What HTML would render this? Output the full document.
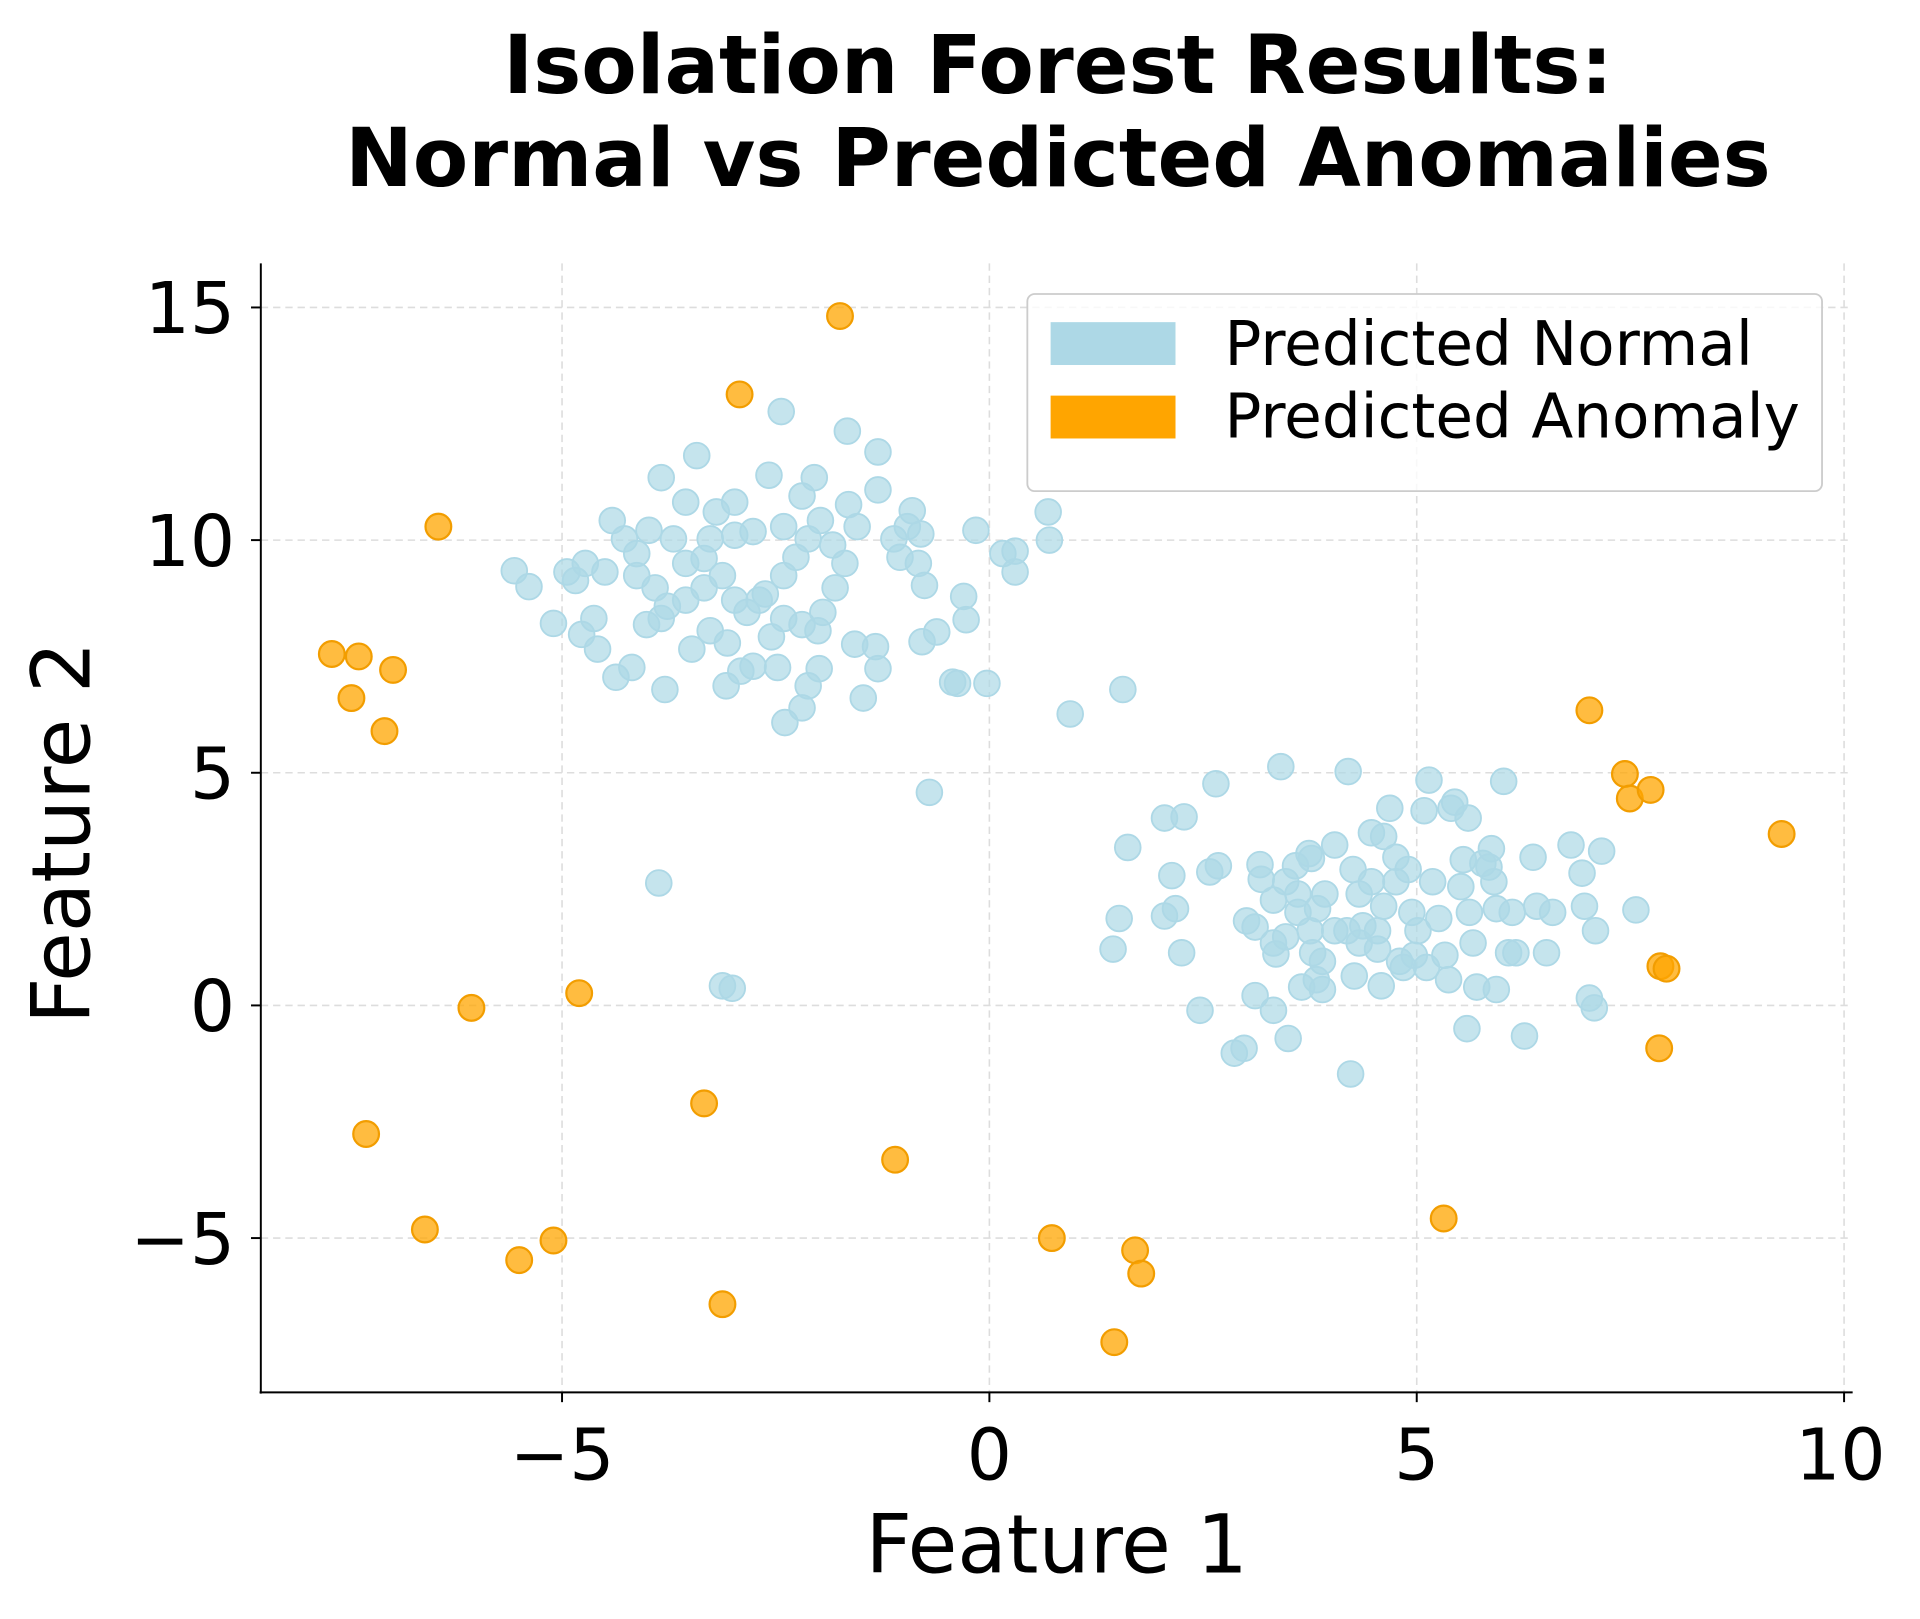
<!DOCTYPE html>
<html><head><meta charset="utf-8"><style>
html,body{margin:0;padding:0;background:#fff}
svg{display:block}
text{font-family:"DejaVu Sans","Liberation Sans",sans-serif;fill:#000}
</style></head><body>
<svg width="1920" height="1619" viewBox="0 0 1568 1322" xmlns="http://www.w3.org/2000/svg">
<rect width="1568" height="1322" fill="#fff"/>
<text x="864" y="76" font-size="66" font-weight="bold" text-anchor="middle">Isolation Forest Results:</text>
<text x="864" y="152" font-size="66" font-weight="bold" text-anchor="middle">Normal vs Predicted Anomalies</text>
<g stroke="#ddd" stroke-width="1.3" stroke-dasharray="6,4">
<line x1="459" y1="215" x2="459" y2="1137"/><line x1="808" y1="215" x2="808" y2="1137"/>
<line x1="1157" y1="215" x2="1157" y2="1137"/><line x1="1506" y1="215" x2="1506" y2="1137"/>
<line x1="213" y1="251" x2="1513" y2="251"/><line x1="213" y1="441" x2="1513" y2="441"/>
<line x1="213" y1="631" x2="1513" y2="631"/><line x1="213" y1="821" x2="1513" y2="821"/>
<line x1="213" y1="1011" x2="1513" y2="1011"/>
</g>
<g id="n" fill="#add8e6" fill-opacity="0.7" stroke="#add8e6" stroke-width="1.5"></g>
<g id="a" fill="#ffa500" fill-opacity="0.75" stroke="#f29d00" stroke-width="1.8"></g>
<g stroke="#000" stroke-width="1.6">
<line x1="213" y1="215" x2="213" y2="1138"/><line x1="212" y1="1137" x2="1513" y2="1137"/>
<line x1="459" y1="1137" x2="459" y2="1145"/><line x1="808" y1="1137" x2="808" y2="1145"/>
<line x1="1157" y1="1137" x2="1157" y2="1145"/><line x1="1506" y1="1137" x2="1506" y2="1145"/>
<line x1="205" y1="251" x2="213" y2="251"/><line x1="205" y1="441" x2="213" y2="441"/>
<line x1="205" y1="631" x2="213" y2="631"/><line x1="205" y1="821" x2="213" y2="821"/>
<line x1="205" y1="1011" x2="213" y2="1011"/>
</g>
<g font-size="58" text-anchor="middle">
<text x="459" y="1208">−5</text><text x="808" y="1208">0</text><text x="1157" y="1208">5</text><text x="1503" y="1208">10</text>
</g>
<g font-size="58" text-anchor="end">
<text x="192" y="272">15</text><text x="192" y="462">10</text><text x="192" y="652">5</text><text x="192" y="842">0</text><text x="192" y="1032">−5</text>
</g>
<text x="863" y="1284" font-size="66" text-anchor="middle">Feature 1</text>
<text transform="translate(73,680) rotate(-90)" font-size="66" text-anchor="middle">Feature 2</text>
<rect x="839" y="240" width="649" height="161" rx="6" fill="#fff" fill-opacity="0.8" stroke="#ccc" stroke-width="1.5"/>
<rect x="858" y="263" width="102" height="35" fill="#add8e6"/>
<rect x="858" y="323" width="102" height="35" fill="#ffa500"/>
<text x="1000" y="298" font-size="50">Predicted Normal</text>
<text x="1000" y="357" font-size="50">Predicted Anomaly</text>
</svg>
<script>
var N=[[420,466],[432,479],[463,467],[470,474],[452,509],[475,518],[485,505],[494,467],[500,425],[510,440],[520,452],[530,433],[540,390],[569,372],[550,440],[560,460],[575,456],[585,418],[600,437],[615,434],[628,388],[638,336],[655,405],[665,390],[692,352],[717,369],[717,400],[693,412],[745,417],[741,430],[752,436],[730,440],[797,433],[819,452],[829,450],[829,467],[856,418],[857,441],[787,487],[789,506],[765,516],[753,524],[755,478],[715,528],[717,546],[705,570],[698,526],[682,480],[672,500],[668,515],[669,546],[655,578],[641,590],[615,544],[593,560],[605,548],[594,525],[580,515],[565,530],[543,563],[540,505],[528,510],[516,545],[503,553],[488,530],[478,460],[520,470],[535,480],[545,495],[560,490],[575,480],[590,470],[600,490],[610,500],[625,485],[640,470],[650,455],[660,440],[670,425],[680,445],[690,460],[640,505],[630,520],[620,490],[580,440],[560,410],[600,410],[640,430],[655,510],[635,545],[660,560],[700,430],[735,455],[750,460],[778,557],[806,558],[782,558],[874,583],[917,563],[759,647],[538,721],[590,805],[598,807],
[921,692],[914,750],[909,775],[951,668],[967,667],[965,778],[951,748],[960,742],[957,715],[980,825],[993,640],[988,712],[995,707],[1008,860],[1016,856],[1018,752],[1025,757],[1025,813],[1030,718],[1029,706],[1040,825],[1046,626],[1052,848],[1050,765],[1042,779],[1040,735],[1060,730],[1058,707],[1069,697],[1071,701],[1072,778],[1076,742],[1082,730],[1080,785],[1080,808],[1075,800],[1063,806],[1101,630],[1105,710],[1103,877],[1106,797],[1110,770],[1113,756],[1120,680],[1120,720],[1125,760],[1128,805],[1130,740],[1135,660],[1140,700],[1140,720],[1143,785],[1146,790],[1153,745],[1158,760],[1163,662],[1167,637],[1165,790],[1175,750],[1183,800],[1185,660],[1188,655],[1193,724],[1195,702],[1199,668],[1198,840],[1203,770],[1206,806],[1211,705],[1216,708],[1218,693],[1222,742],[1222,808],[1228,638],[1232,778],[1235,745],[1238,778],[1245,846],[1252,700],[1255,740],[1263,778],[1268,745],[1283,690],[1292,713],[1294,740],[1298,815],[1302,823],[1303,760],[1308,695],[1336,743],[1130,683],[1110,730],[1090,760],[1150,710],[1170,720],[1200,745],[1050,720],[1060,745],[1090,690],[1040,770],[1125,775],[1155,780],[1100,760],[1070,760],[1220,720],[1180,780]];
var A=[[271,534],[293,536],[321,547],[287,570],[314,597],[358,430],[604,322],[686,258],[385,823],[473,811],[299,926],[575,901],[731,947],[347,1004],[424,1029],[452,1013],[590,1065],[859,1011],[927,1021],[932,1040],[910,1096],[1179,995],[1298,580],[1327,632],[1331,652],[1348,645],[1455,681],[1356,789],[1361,791],[1355,856]];
function put(id,L){var g=document.getElementById(id),s='';L.forEach(function(p){s+='<circle cx="'+p[0]+'" cy="'+p[1]+'" r="10.5"/>';});g.innerHTML=s;}
put('n',N);put('a',A);
</script>
</body></html>
